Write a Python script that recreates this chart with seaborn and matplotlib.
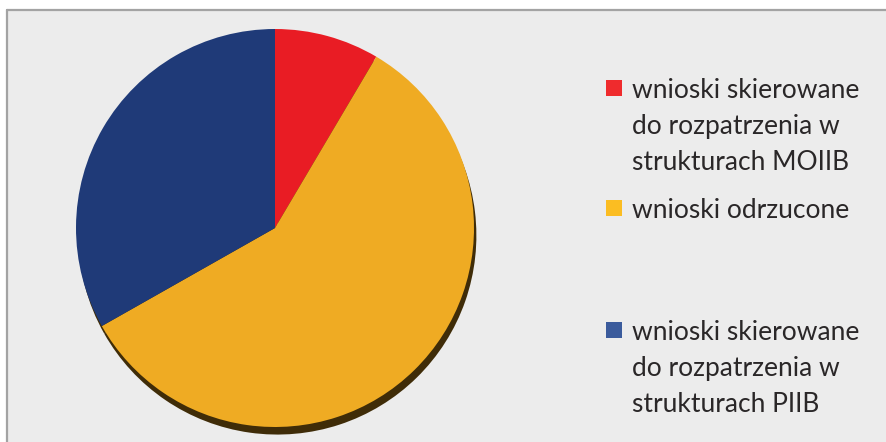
import matplotlib.pyplot as plt
import seaborn as sns
from matplotlib.patches import Rectangle
from matplotlib.lines import Line2D

# dane (udzial procentowy)
labels = [
    "wnioski skierowane\ndo rozpatrzenia w\nstrukturach MOIIB",
    "wnioski odrzucone",
    "wnioski skierowane\ndo rozpatrzenia w\nstrukturach PIIB",
]
values = [8.5, 58.3, 33.2]
pie_colors = ["#e91c24", "#efab23", "#1f3a78"]
legend_colors = ["#ef2b2d", "#fbbd22", "#3b5b9c"]

sns.set_theme(style="white")
plt.rcParams['font.family'] = ['Lato', 'DejaVu Sans']

W, H = 886, 442
fig = plt.figure(figsize=(W / 100, H / 100), dpi=100, facecolor="white")

# tlo i ramka
fig.patches.append(Rectangle((6 / W, 0), 1 - 6 / W, 1 - 9 / H, transform=fig.transFigure,
                             facecolor="#ececec", edgecolor="none", zorder=-5))
fig.lines.append(Line2D([6.5 / W, 1], [1 - 9.5 / H, 1 - 9.5 / H], transform=fig.transFigure,
                        color="#a3a3a3", lw=1.6, zorder=-4))
fig.lines.append(Line2D([6.5 / W, 6.5 / W], [0, 1 - 9.5 / H], transform=fig.transFigure,
                        color="#a3a3a3", lw=1.6, zorder=-4))

# wykres kolowy
cx, cy, r = 275, 228, 199
ax = fig.add_axes([(cx - r) / W, (H - cy - r) / H, 2 * r / W, 2 * r / H], zorder=2)
ax.patch.set_visible(False)
# cien
ax.pie(values, colors=["#3f2c08"] * 3, startangle=90, counterclock=False,
       center=(0.012, -0.038), radius=1.0, wedgeprops=dict(linewidth=0))
ax.pie(values, colors=pie_colors, startangle=90, counterclock=False,
       radius=1.0, wedgeprops=dict(linewidth=0))
ax.set_xlim(-1.0, 1.0)
ax.set_ylim(-1.0, 1.0)
ax.set_aspect("auto")
ax.axis("off")

# legenda
first_line_y = [88, 208, 330]
line_step = 36
for lab, col, y0 in zip(labels, legend_colors, first_line_y):
    fig.patches.append(Rectangle((606 / W, 1 - (y0 + 8) / H), 16 / W, 16 / H,
                                 transform=fig.transFigure, facecolor=col, edgecolor="none"))
    for i, line in enumerate(lab.split("\n")):
        fig.text(632 / W, 1 - (y0 + i * line_step) / H, line, fontsize=19,
                 color="#2a2728", va="center_baseline", ha="left")

fig.savefig("out.png", dpi=100, facecolor="white")
